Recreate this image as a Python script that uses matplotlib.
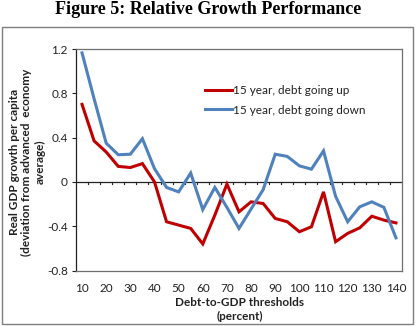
import matplotlib
matplotlib.use("Agg")
import matplotlib.pyplot as plt
from matplotlib.patches import Rectangle

thresholds = [10, 15, 20, 25, 30, 35, 40, 45, 50, 55, 60, 65, 70, 75, 80,
              85, 90, 95, 100, 105, 110, 115, 120, 125, 130, 135, 140]
debt_up = [0.70, 0.37, 0.27, 0.14, 0.13, 0.165, 0.00, -0.36, -0.39, -0.42,
           -0.56, -0.30, -0.02, -0.27, -0.18, -0.195, -0.33, -0.36, -0.45,
           -0.405, -0.09, -0.54, -0.465, -0.415, -0.31, -0.345, -0.37]
debt_down = [1.165, 0.75, 0.35, 0.245, 0.25, 0.39, 0.12, -0.05, -0.09, 0.08,
             -0.25, -0.05, -0.23, -0.42, -0.245, -0.07, 0.25, 0.23, 0.145,
             0.115, 0.28, -0.13, -0.36, -0.225, -0.18, -0.23, -0.505]
xtick_labels = [10, 20, 30, 40, 50, 60, 70, 80, 90, 100, 110, 120, 130, 140]
yticks = [-0.8, -0.4, 0, 0.4, 0.8, 1.2]
series_names = ["15 year, debt going up", "15 year, debt going down"]

plt.rcParams['font.family'] = ['Lato', 'DejaVu Sans']

W, H = 417, 326
FS = 8.5
fig = plt.figure(figsize=(W / 100, H / 100), dpi=100)
fig.patch.set_facecolor('white')

# outer chart frame
fig.patches.append(Rectangle((2 / W, 2 / H), 411 / W, 297 / H, transform=fig.transFigure,
                             fill=False, edgecolor='#7f7f7f', lw=1.0))

fig.text(0.5, 1 - 9 / H, "Figure 5: Relative Growth Performance", ha='center', va='center',
         family='Liberation Serif', weight='bold', fontsize=13)

ax = fig.add_axes([76 / W, 1 - 270.5 / H, 326 / W, 221.5 / H])
ax.plot(thresholds, debt_up, color='#C00000', lw=2.2, label=series_names[0], solid_joinstyle='miter')
ax.plot(thresholds, debt_down, color='#4F81BD', lw=2.2, label=series_names[1], solid_joinstyle='miter')

ax.set_xlim(7.5, 142.5)
ax.set_ylim(-0.8, 1.2)
ax.set_yticks(yticks)
ax.set_yticklabels(['-0.8', '-0.4', '0', '0.4', '0.8', '1.2'], fontsize=FS, color='#222222')
ax.tick_params(axis='y', length=3, width=0.8, color='#222222', pad=3)

ax.set_xticks(xtick_labels)
ax.set_xticklabels([str(v) for v in xtick_labels], fontsize=FS, color='#222222')
ax.tick_params(axis='x', length=0, pad=9)

# zero axis with category-boundary tick marks
ax.axhline(0, color='#222222', lw=0.9, zorder=1)
for b in range(len(thresholds) - 1):
    xb = (thresholds[b] + thresholds[b + 1]) / 2
    ax.plot([xb, xb], [0, -0.022], color='#222222', lw=0.8, zorder=1, clip_on=False)

for s in ['top', 'right', 'bottom']:
    ax.spines[s].set_color('#6f6f6f')
    ax.spines[s].set_linewidth(0.9)
ax.spines['left'].set_color('#222222')
ax.spines['left'].set_linewidth(0.9)

leg = ax.legend(loc='upper left', bbox_to_anchor=(0.38, 0.86), frameon=False, fontsize=FS,
                handlelength=2.3, handletextpad=0.1, labelspacing=0.75, borderaxespad=0)
for t in leg.get_texts():
    t.set_color('#222222')

fig.text(240 / W, 1 - 302 / H, "Debt-to-GDP thresholds", ha='center', va='center',
         fontsize=FS, weight='bold', color='#222222')
fig.text(240 / W, 1 - 316 / H, "(percent)", ha='center', va='center',
         fontsize=FS, weight='bold', color='#222222')

fig.text(27 / W, 1 - 162 / H, "Real GDP growth per capita\n(deviation from advanced  economy\naverage)",
         ha='center', va='center', rotation=90, fontsize=FS, weight='bold', color='#222222',
         linespacing=1.2, multialignment='center')

fig.savefig('out.png', dpi=100)
